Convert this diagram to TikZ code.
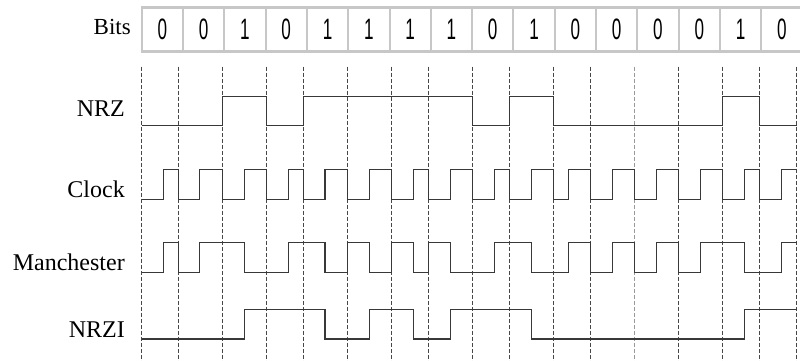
\documentclass[tikz,border=0pt]{standalone}
\usepackage{fontspec}
\setmainfont{Liberation Serif}
\newfontfamily\bitfont[FakeStretch=0.58]{Liberation Sans}
\usetikzlibrary{positioning}
\tikzset{
  wave/.style={draw=black!78, line width=1.3pt, line join=miter},
  gridline/.style={draw=black!72, line width=0.9pt, dash pattern=on 4pt off 2pt},
  siglabel/.style={anchor=base east, inner sep=0pt, font=\fontsize{24}{28}\selectfont},
  bitcell/.style={draw=black!22, line width=2pt, fill=white, minimum width=41.3pt, minimum height=42.3pt, inner sep=0pt, font=\bitfont\fontsize{29.5}{30}\selectfont},
  boxedge/.style={draw=black!22, line width=2.8pt}
}
\begin{document}
\begin{tikzpicture}[x=1pt, y=-1pt]
  \useasboundingbox (0,0) rectangle (800,361);
  % bit row
  \foreach \b [count=\i from 0] in {0,0,1,0,1,1,1,1,0,1,0,0,0,0,1,0}
    \node[bitcell] (bit\i) at ({162.35+41.3*\i},29.6) {\b};
  \draw[boxedge] (bit0.north west) -- (bit15.north east);
  \draw[boxedge] (bit0.south west) -- (bit15.south east);
  \node[siglabel, font=\fontsize{23}{26}\selectfont] (lbits) at (131,35) {Bits};

  % signal names
  \node[siglabel] (lnrz) at (125,116.5) {NRZ};
  \node[siglabel] (lclock) at (125,197.6) {Clock};
  \node[siglabel] (lman) at (125,270.4) {Manchester};
  \node[siglabel] (lnrzi) at (125,337.4) {NRZI};

  % bit boundaries
  \foreach \x in {141.7,178.3,222.3,266.3,303.3,347.7,391.7,428.3,472.3,509.3,553.3,590.3,678.3,722.3,759.3,796.7}
    \draw[gridline] (\x,66.7) -- (\x,361);
  \draw[gridline, draw=black!40] (634.7,66.7) -- (634.7,361);

  % NRZ
  \draw[wave] (141.7,125.7) -| (222.3,96.7) -| (266.3,125.7) -| (303.3,96.7) -| (472.3,125.7)
    -| (509.3,96.7) -| (553.3,125.7) -| (722.3,96.7) -| (759.3,125.7) -- (796.7,125.7);

  % Clock
  \draw[wave] (141.7,199.3)
    \foreach \m/\e in {163.3/178.3,199.3/222.3,244.3/266.3,288.3/303.3,325/347.7,369.3/391.7,
      413.3/428.3,450.7/472.3,494.3/509.3,531.7/553.3,568.3/590.3,612.3/634.7,656.3/678.3,
      700.7/722.3,744.3/759.3} { -| (\m,169.3) -| (\e,199.3) }
    -| (781.7,169.3) -- (796.7,169.3);

  % Manchester
  \draw[wave] (141.7,272.7) -| (163.3,242.7) -| (178.3,272.7) -| (199.3,242.7) -| (244.3,272.7)
    -| (288.3,242.7) -| (325,272.7) -| (347.7,242.7) -| (369.3,272.7) -| (391.7,242.7)
    -| (413.3,272.7) -| (428.3,242.7) -| (450.7,272.7) -| (494.3,242.7) -| (531.7,272.7)
    -| (568.3,242.7) -| (590.3,272.7) -| (612.3,242.7) -| (634.7,272.7) -| (656.3,242.7)
    -| (678.3,272.7) -| (700.7,242.7) -| (744.3,272.7) -| (781.7,242.7) -- (796.7,242.7);

  % NRZI
  \draw[wave] (141.7,339) -| (244.3,309.3) -| (325,339) -| (369.3,309.3) -| (413.3,339)
    -| (450.7,309.3) -| (531.7,339) -| (744.3,309.3) -- (796.7,309.3);
\end{tikzpicture}
\end{document}
